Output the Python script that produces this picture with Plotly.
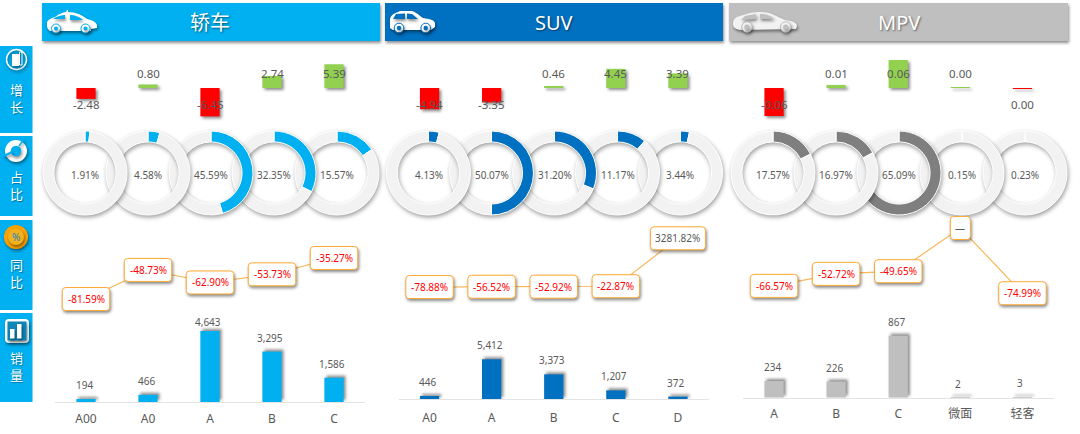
import re
import plotly.graph_objects as go

W, H = 1080, 434
FONT = "Noto Sans, Noto Sans CJK SC"
GREY_TXT = "#595959"

# ---------- data ----------
group_names = ["轿车", "SUV", "MPV"]
group_colors = ["#00B0F0", "#0070C0", "#BFBFBF"]
ring_colors = ["#00B0F0", "#0070C0", "#7F7F7F"]
side_labels = ["增<br>长", "占<br>比", "同<br>比", "销<br>量"]

sedan_cats = ["A00", "A0", "A", "B", "C"]
suv_cats = ["A0", "A", "B", "C", "D"]
mpv_cats = ["A", "B", "C", "微面", "轻客"]

sedan_growth = [-2.48, 0.80, -6.45, 2.74, 5.39]
suv_growth = [-4.94, -3.35, 0.46, 4.45, 3.39]
mpv_growth = [-0.06, 0.0065, 0.06, 0.002, -0.002]
sedan_growth_labels = ["-2.48", "0.80", "-6.45", "2.74", "5.39"]
suv_growth_labels = ["-4.94", "-3.35", "0.46", "4.45", "3.39"]
mpv_growth_labels = ["-0.06", "0.01", "0.06", "0.00", "0.00"]

sedan_share = [1.91, 4.58, 45.59, 32.35, 15.57]
suv_share = [4.13, 50.07, 31.20, 11.17, 3.44]
mpv_share = [17.57, 16.97, 65.09, 0.15, 0.23]

sedan_yoy = [-81.59, -48.73, -62.90, -53.73, -35.27]
suv_yoy = [-78.88, -56.52, -52.92, -22.87, 3281.82]
mpv_yoy = [-66.57, -52.72, -49.65, 0, -74.99]
sedan_yoy_labels = ["-81.59%", "-48.73%", "-62.90%", "-53.73%", "-35.27%"]
suv_yoy_labels = ["-78.88%", "-56.52%", "-52.92%", "-22.87%", "3281.82%"]
mpv_yoy_labels = ["-66.57%", "-52.72%", "-49.65%", "—", "-74.99%"]

sedan_sales = [194, 466, 4643, 3295, 1586]
suv_sales = [446, 5412, 3373, 1207, 372]
mpv_sales = [234, 226, 867, 2, 3]

cats = [sedan_cats, suv_cats, mpv_cats]
growth = [sedan_growth, suv_growth, mpv_growth]
growth_labels = [sedan_growth_labels, suv_growth_labels, mpv_growth_labels]
share = [sedan_share, suv_share, mpv_share]
yoy = [sedan_yoy, suv_yoy, mpv_yoy]
yoy_labels = [sedan_yoy_labels, suv_yoy_labels, mpv_yoy_labels]
sales = [sedan_sales, suv_sales, mpv_sales]

# ---------- layout constants (pixels) ----------
panel_x = [(55, 365), (398.5, 709), (743, 1053.5)]
header_x = [(42, 380), (385, 723), (729, 1068)]
header_y = (3, 41)
ring_cx0 = [85, 428.5, 773]
ring_step = 63
ring_cy, ring_r = 173, 42
ring_text_y = 175
growth_base, growth_top, growth_bot = 88, 58, 122
growth_scale = [4.4, 4.3, 467]
yoy_zero = [226.8, 285.9, 228]
yoy_scale = [0.885, 0.0145, 0.87]
yoy_top, yoy_bot = 215, 322
sales_base = [402, 399.3, 397.7]
sales_top = 320
sales_scale = [0.0153, 0.0074, 0.0715]
tick_len = [6, 7, 5]
side_rows = [(46, 133), (136, 216), (220, 310), (313, 402)]
side_text_y = [98.5, 185, 273.5, 366]


def fx(x):
    return x / W


def fy(y):
    return 1 - y / H


def P(s):
    """Icon path written in pixels -> paper coordinates."""
    toks = re.findall(r"[A-Za-z]|-?\d+\.?\d*", s)
    out, is_x = [], True
    for t in toks:
        if t.isalpha():
            out.append(t)
            is_x = True
        else:
            v = float(t)
            out.append(f"{fx(v):.5f}" if is_x else f"{fy(v):.5f}")
            is_x = not is_x
    return " ".join(out)


shapes, annos = [], []


def path(d, fill, layer="above", line=None, lw=0):
    shapes.append(dict(type="path", xref="paper", yref="paper", path=P(d), fillcolor=fill,
                       layer=layer, line=dict(color=line or fill, width=lw)))


def rect(x0, y0, x1, y1, fill, layer="above", line=None, lw=0):
    shapes.append(dict(type="rect", xref="paper", yref="paper", x0=fx(x0), x1=fx(x1), y0=fy(y1), y1=fy(y0),
                       fillcolor=fill, layer=layer, line=dict(color=line or fill, width=lw)))


def circ(cx, cy, r, fill, line=None, lw=0):
    shapes.append(dict(type="circle", xref="paper", yref="paper", x0=fx(cx - r), x1=fx(cx + r),
                       y0=fy(cy + r), y1=fy(cy - r), fillcolor=fill, layer="above",
                       line=dict(color=line or fill, width=lw)))


def text(x, y, t, size=10, color=GREY_TXT, shadow=None, **kw):
    f = dict(family=FONT, size=size, color=color)
    if shadow:
        f["shadow"] = shadow
    annos.append(dict(x=fx(x), y=fy(y), xref="paper", yref="paper", text=t, showarrow=False,
                      font=f, xanchor="center", yanchor="middle", **kw))


fig = go.Figure()

# ---------- cartesian panels ----------
layout_axes = {}


def axis_pair(n, g, ytop, ybot, yrange, tick_labels=None, tlen=0):
    sfx = "" if n == 1 else str(n)
    xa = dict(domain=[fx(panel_x[g][0]), fx(panel_x[g][1])], range=[-0.5, 4.5], anchor=f"y{sfx}",
              showgrid=False, zeroline=False, fixedrange=True)
    if tick_labels:
        xa.update(tickmode="array", tickvals=list(range(5)), ticktext=tick_labels, showline=True,
                  linecolor="#E3E3E3", linewidth=1, ticks="outside", ticklen=tlen, tickcolor="rgba(0,0,0,0)",
                  tickfont=dict(family=FONT, size=12, color=GREY_TXT))
    else:
        xa.update(visible=False)
    ya = dict(domain=[fy(ybot), fy(ytop)], range=yrange, anchor=f"x{sfx}", visible=False, fixedrange=True)
    layout_axes[f"xaxis{sfx}"] = xa
    layout_axes[f"yaxis{sfx}"] = ya
    return (f"x{sfx}", f"y{sfx}")


for g in range(3):
    xs = list(range(5))

    # growth bars
    s = growth_scale[g]
    xr, yr = axis_pair(1 + g, g, growth_top, growth_bot,
                       [-(growth_bot - growth_base) / s, (growth_base - growth_top) / s])
    fig.add_trace(go.Bar(x=xs, y=growth[g], xaxis=xr, yaxis=yr, width=0.31,
                         marker=dict(color=["#FF0000" if v < 0 else "#92D050" for v in growth[g]], line_width=0)))
    for i, lab in enumerate(growth_labels[g]):
        up = growth[g][i] >= 0
        annos.append(dict(x=i, y=0, xref=xr, yref=yr, text=lab, showarrow=False, xanchor="center", yanchor="middle",
                          yshift=15 if up else -16, font=dict(family=FONT, size=11.5, color=GREY_TXT)))

    # year-on-year line + rounded labels
    s = yoy_scale[g]
    xr, yr = axis_pair(4 + g, g, yoy_top, yoy_bot,
                       [(yoy_zero[g] - yoy_bot) / s, (yoy_zero[g] - yoy_top) / s])
    fig.add_trace(go.Scatter(x=xs, y=yoy[g], xaxis=xr, yaxis=yr, mode="lines",
                             line=dict(color="#F9B85A", width=1.2)))
    for i, lab in enumerate(yoy_labels[g]):
        w = 20 if lab == "—" else (55 if len(lab) > 7 else 47.5)
        h, r = 23, 3.5
        a, b = w / 2, h / 2
        d = (f"M {-a + r} {-b} L {a - r} {-b} Q {a} {-b} {a} {-b + r} L {a} {b - r} Q {a} {b} {a - r} {b} "
             f"L {-a + r} {b} Q {-a} {b} {-a} {b - r} L {-a} {-b + r} Q {-a} {-b} {-a + r} {-b} Z")
        shapes.append(dict(type="path", xref=xr, yref=yr, xsizemode="pixel", ysizemode="pixel",
                           xanchor=i, yanchor=yoy[g][i], path=d, fillcolor="white", layer="above",
                           line=dict(color="#FFAB33", width=1)))
        col = "#FF0000" if lab.startswith("-") else GREY_TXT
        annos.append(dict(x=i, y=yoy[g][i], xref=xr, yref=yr, text=lab, showarrow=False,
                          xanchor="center", yanchor="middle", font=dict(family=FONT, size=10, color=col)))

    # sales bars
    s = sales_scale[g]
    xr, yr = axis_pair(7 + g, g, sales_top, sales_base[g], [0, (sales_base[g] - sales_top) / s],
                       tick_labels=cats[g], tlen=tick_len[g])
    fig.add_trace(go.Bar(x=xs, y=sales[g], xaxis=xr, yaxis=yr, width=0.31,
                         marker=dict(color=group_colors[g], line_width=0)))
    for i, v in enumerate(sales[g]):
        top_clamped = (g == 0 and v == max(sales[g]))
        annos.append(dict(x=i, y=v, xref=xr, yref=yr, text=f"{v:,}", showarrow=False, xanchor="center",
                          yanchor="middle", xshift=-2, yshift=9 if top_clamped else 14,
                          font=dict(family=FONT, size=10, color=GREY_TXT)))

    # rings, right to left so that the left ring lies on top
    for i in reversed(range(5)):
        cx = ring_cx0[g] + i * ring_step
        fig.add_trace(go.Pie(values=[share[g][i], 100 - share[g][i]], hole=0.74, sort=False,
                             direction="clockwise", rotation=0, textinfo="none", showlegend=False,
                             marker=dict(colors=[ring_colors[g], "#F2F2F2"], line=dict(color="white", width=1)),
                             domain=dict(x=[fx(cx - ring_r), fx(cx + ring_r)],
                                         y=[fy(ring_cy + ring_r), fy(ring_cy - ring_r)])))
        text(cx, ring_text_y, f"{share[g][i]:.2f}%", size=10)

# ---------- headers ----------
for g in range(3):
    rect(header_x[g][0], header_y[0], header_x[g][1], header_y[1], group_colors[g])
    text((header_x[g][0] + header_x[g][1]) / 2 + (-1 if g == 0 else 0), 22, group_names[g], size=20, color="white",
         shadow="1px 1px 2px rgba(0,0,0,0.5)")

# taxi
bg = group_colors[0]
path("M 47 27 L 47 22 C 49 19 52 18 55 17 C 60 13 65 12 66 12 L 67 10 L 68 10 L 68 12 C 76 12 82 15 87 19 "
     "C 92 20 96 22 97 25 L 97 28 L 91 29 L 91 31 L 50 31 L 48 29 Z", "white")
path("M 53 19 C 57 16 62 15 65 15 L 65 19 Z", bg)
path("M 70 15 C 75 15 80 17 83 20 L 70 20 Z", bg)
for cx in (56, 85.5):
    circ(cx, 28.5, 4.5, "white", line=bg, lw=1)
    circ(cx, 28.5, 2, bg)

# SUV
bg = group_colors[1]
path("M 390 28 L 390 19 C 391 15 395 13 398 12 L 400 11 L 412 11 C 416 12 420 16 423 18 C 430 19 434 20 435 23 "
     "L 435 27 L 431 30 L 393 30 Z", "white")
path("M 396 14 L 405 13.5 L 405 19 L 393 19 Z", bg)
path("M 407 13.5 L 412 14 L 418 19 L 407 19 Z", bg)
for cx in (399, 425.7):
    circ(cx, 28, 4.8, "white", line=bg, lw=1)
    circ(cx, 28, 2.2, bg)

# MPV
bg = group_colors[2]
path("M 733 24 C 733 20 735 17 740 16 L 750 13 C 760 11 768 12 772 14 L 785 20 C 793 21 797 23 797 26 L 796 29 "
     "L 740 30 C 735 29 733 27 733 24 Z", "#F2F2F2")
path("M 745 16 L 756 14 L 756 19 L 741 20 Z", bg)
path("M 760 14 C 765 14 770 15 774 19 L 760 19 Z", bg)
for cx in (747, 785.7):
    circ(cx, 27, 5.2, "#F2F2F2", line=bg, lw=1)
    circ(cx, 27, 2.6, bg)

# ---------- side column ----------
for (y0, y1), lab, ty in zip(side_rows, side_labels, side_text_y):
    rect(0, y0, 32.5, y1, "#00B0F0", layer="below")
    text(16, ty, lab, size=13, color="white", shadow="1px 1px 1px rgba(0,0,0,0.35)")

# icon: growth
circ(16.5, 59.5, 10, "rgba(0,0,0,0)", line="white", lw=1.5)
rect(12, 54, 19, 66, "white")
rect(19.5, 52, 22, 65, "rgba(0,0,0,0)", line="white", lw=1)
# icon: share
circ(16, 151, 11, "white")
circ(16, 151, 5.2, "#00B0F0")
path("M 4 156 L 12 152", "rgba(0,0,0,0)", line="#00B0F0", lw=2)
path("M 19 146 L 24 139", "rgba(0,0,0,0)", line="#00B0F0", lw=1.5)
# icon: yoy
circ(16, 237, 12, "#FFA200")
circ(16, 237, 8, "#F0B21E")
text(16, 237, "%", size=10, color="#1F7FC0")
# icon: sales
path("M 9 319 L 25 319 Q 29 319 29 323 L 29 339 Q 29 343 25 343 L 9 343 Q 5 343 5 339 L 5 323 Q 5 319 9 319 Z",
     "white")
rect(7.5, 321.5, 26.5, 340.5, "#0E86B8")
rect(10, 329, 14.5, 338.5, "white")
rect(17, 324, 21.5, 338.5, "white")

fig.update_layout(width=W, height=H, margin=dict(l=0, r=0, t=0, b=0), autosize=False,
                  paper_bgcolor="white", plot_bgcolor="rgba(0,0,0,0)", showlegend=False,
                  hovermode=False, barmode="overlay", shapes=shapes, annotations=annos,
                  font=dict(family=FONT), **layout_axes)

css = """
.pielayer .trace { filter: drop-shadow(1.5px 2px 2px rgba(0,0,0,0.38)); }
.barlayer .point path { filter: drop-shadow(2px 2px 1.5px rgba(0,0,0,0.45)); }
.x7y7 .barlayer .point path, .x8y8 .barlayer .point path, .x9y9 .barlayer .point path {
  filter: drop-shadow(2px -2px 1.5px rgba(0,0,0,0.45)); }
.layer-above .shapelayer path { filter: drop-shadow(1.5px 2px 1.5px rgba(0,0,0,0.45)); }
"""
post = ("document.body.style.margin='0';document.body.style.overflow='hidden';"
        "var s=document.createElement('style');s.textContent=" + repr(css.replace("\n", " ")) +
        ";document.head.appendChild(s);")
fig.write_html("out.html", post_script=post, config=dict(displayModeBar=False))
